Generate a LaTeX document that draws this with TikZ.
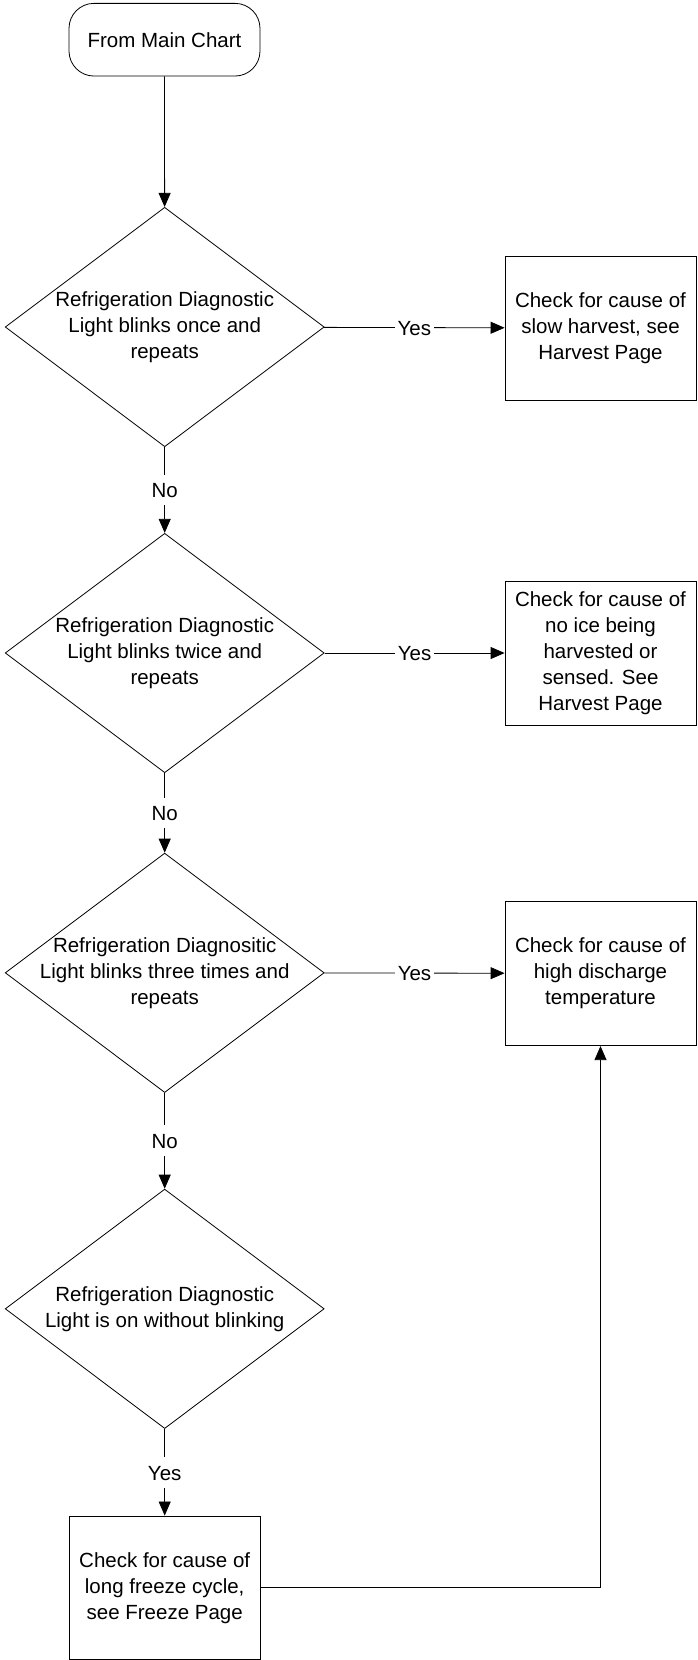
\documentclass[tikz,border=0pt]{standalone}
\usepackage{fontspec}
\setmainfont{Liberation Sans}
\usetikzlibrary{shapes.geometric,arrows.meta}
\begin{document}
\begin{tikzpicture}[x=1pt,y=-1pt,
  every node/.style={font=\fontsize{20.5}{26}\selectfont},
  flow/.style={draw=black, line width=0.8pt},
  terminal/.style={flow, rectangle, rounded corners=25pt, minimum width=191pt, minimum height=72.7pt, inner sep=0pt},
  decision/.style={flow, diamond, minimum width=319pt, minimum height=239.4pt, inner sep=0pt},
  procbox/.style={flow, rectangle, minimum width=191pt, minimum height=144pt, inner sep=0pt},
  txt/.style={align=center, inner sep=0pt},
  conn/.style={line width=0.8pt, -{Triangle[length=14pt,width=12pt]}},
  plain/.style={line width=0.8pt},
  lbl/.style={fill=white, inner sep=2.5pt, text height=20.7pt, text depth=5pt}
]
\useasboundingbox (0,0) rectangle (697,1660);

% terminal
\node[terminal] (start) at (164.5,39.7) {From Main Chart};

% decisions
\node[decision] (d1) at (164.7,327) {};
\node[txt] (t1) at (d1) {Refrigeration Diagnostic\\Light blinks once and\\repeats};
\node[decision] (d2) at (164.7,653) {};
\node[txt] (t2) at (d2) {Refrigeration Diagnostic\\Light blinks twice and\\repeats};
\node[decision] (d3) at (164.7,972.8) {};
\node[txt] (t3) at (d3) {Refrigeration Diagnositic\\Light blinks three times and\\repeats};
\node[decision] (d4) at (164.7,1308.8) {};
\node[txt] (t4) at (d4) {Refrigeration Diagnostic\\Light is on without blinking};

% process boxes
\node[procbox, align=center] (b1) at (600.5,328) {Check for cause of\\slow harvest, see\\Harvest Page};
\node[procbox, align=center] (b2) at (600.5,653) {Check for cause of\\no ice being\\harvested or\\sensed. See\\Harvest Page};
\node[procbox, align=center, minimum height=144.7pt] (b3) at (600.5,973.3) {Check for cause of\\high discharge\\temperature};
\node[procbox, align=center, minimum height=143.5pt, minimum width=191.4pt] (b4) at (164.7,1587.7) {Check for cause of\\long freeze cycle,\\see Freeze Page};

% connectors
\draw[conn] (start) -- (d1);
\draw[conn] (d1) -- node[lbl] {Yes} (b1);
\draw[conn] (d1) -- node[lbl] {No} (d2);
\draw[conn] (d2) -- node[lbl] {Yes} (b2);
\draw[conn] (d2) -- node[lbl] {No} (d3);
\draw[conn] (d3) -- node[lbl] {Yes} (b3);
\draw[conn] (d3) -- node[lbl] {No} (d4);
\draw[conn] (d4) -- node[lbl] {Yes} (b4);
\draw[conn] (b4.east) -| (b3.south);
\end{tikzpicture}
\end{document}
